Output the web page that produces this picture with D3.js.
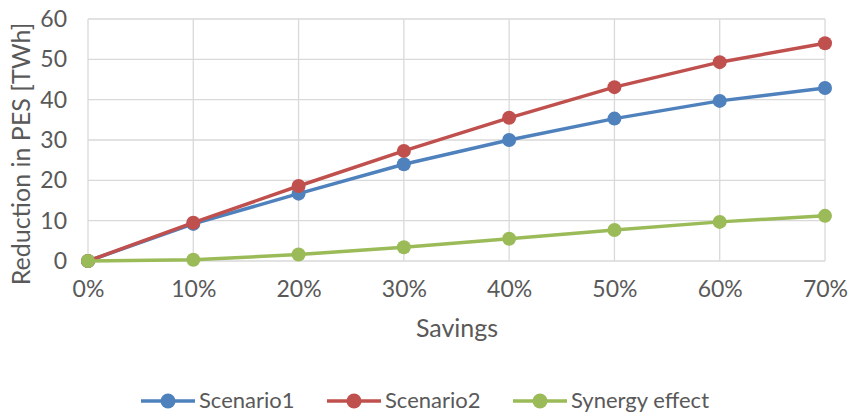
<!DOCTYPE html>
<html>
<head>
<meta charset="utf-8">
<script src="https://cdn.jsdelivr.net/npm/d3@7"></script>
<style>
  body { margin: 0; background: #fff; }
  text { font-family: Lato, "Open Sans", sans-serif; fill: #595959; }
</style>
</head>
<body>
<div class="board"></div>
<script>
var savings = [0, 0.1, 0.2, 0.3, 0.4, 0.5, 0.6, 0.7];
var scenario1 = [0, 9.2, 16.7, 24.0, 30.0, 35.3, 39.7, 42.9];
var scenario2 = [0, 9.5, 18.6, 27.3, 35.5, 43.1, 49.3, 54.0];
var synergy = [0, 0.3, 1.6, 3.4, 5.5, 7.7, 9.7, 11.2];
var yTicks = [0, 10, 20, 30, 40, 50, 60];
var seriesNames = ["Scenario1", "Scenario2", "Synergy effect"];
var seriesColors = ["#4F81BD", "#C0504D", "#9BBB59"];

var width = 850, height = 413;
var svg = d3.select('.board').append('svg')
  .attr('width', width)
  .attr('height', height)

var x = d3.scaleLinear().domain([0, 0.7]).range([88, 825]);
var y = d3.scaleLinear().domain([0, 60]).range([261, 19]);

// grid
svg.append('g').selectAll('line')
  .data(yTicks).enter().append('line')
  .attr('x1', 88).attr('x2', 825)
  .attr('y1', function(d){ return y(d) }).attr('y2', function(d){ return y(d) })
  .attr('stroke', '#D9D9D9').attr('stroke-width', 1.3)

svg.append('g').selectAll('line')
  .data(savings).enter().append('line')
  .attr('x1', function(d){ return x(d) }).attr('x2', function(d){ return x(d) })
  .attr('y1', 19).attr('y2', 261)
  .attr('stroke', '#D9D9D9').attr('stroke-width', 1.3)

// tick labels
var yAxis = d3.axisLeft(y).tickValues(yTicks).tickSize(0).tickPadding(21);
svg.append('g').attr('transform', 'translate(88,0)').call(yAxis)
  .call(function(g){ g.select('.domain').remove() })
  .selectAll('text').attr('font-size', '23px').attr('fill', '#595959')
  .style('font-family', 'Lato, "Open Sans", sans-serif')

var xAxis = d3.axisBottom(x).tickValues(savings).tickFormat(d3.format('.0%')).tickSize(0).tickPadding(20);
svg.append('g').attr('transform', 'translate(0,261)').call(xAxis)
  .call(function(g){ g.select('.domain').remove() })
  .selectAll('text').attr('font-size', '23px').attr('fill', '#595959')
  .style('font-family', 'Lato, "Open Sans", sans-serif')

// axis titles
svg.append('text')
  .attr('x', 457).attr('y', 337)
  .attr('text-anchor', 'middle')
  .attr('font-size', '25px')
  .text('Savings')

svg.append('text')
  .attr('transform', 'translate(30,154) rotate(-90)')
  .attr('text-anchor', 'middle')
  .attr('font-size', '25px')
  .text('Reduction in PES [TWh]')

// series
var allSeries = [scenario1, scenario2, synergy];
var line = d3.line()
  .x(function(d, i){ return x(savings[i]) })
  .y(function(d){ return y(d) })

allSeries.forEach(function(s, k){
  svg.append('path')
    .datum(s)
    .attr('d', line)
    .attr('fill', 'none')
    .attr('stroke', seriesColors[k])
    .attr('stroke-width', 3.5)
    .attr('stroke-linejoin', 'round')
  svg.append('g').selectAll('circle')
    .data(s).enter().append('circle')
    .attr('cx', function(d, i){ return x(savings[i]) })
    .attr('cy', function(d){ return y(d) })
    .attr('r', 7)
    .attr('fill', seriesColors[k])
})

// legend
var legendX = [141, 327, 513];
var legend = svg.selectAll('.legend')
  .data(seriesNames).enter().append('g')
  .attr('class', 'legend')
  .attr('transform', function(d, i){ return 'translate(' + legendX[i] + ',401)' })

legend.append('line')
  .attr('x1', 0).attr('x2', 54)
  .attr('stroke', function(d, i){ return seriesColors[i] })
  .attr('stroke-width', 3.5)
legend.append('circle')
  .attr('cx', 27).attr('r', 7.5)
  .attr('fill', function(d, i){ return seriesColors[i] })
legend.append('text')
  .attr('x', 58).attr('y', 7)
  .attr('font-size', '22px')
  .text(function(d){ return d })
</script>
</body>
</html>
